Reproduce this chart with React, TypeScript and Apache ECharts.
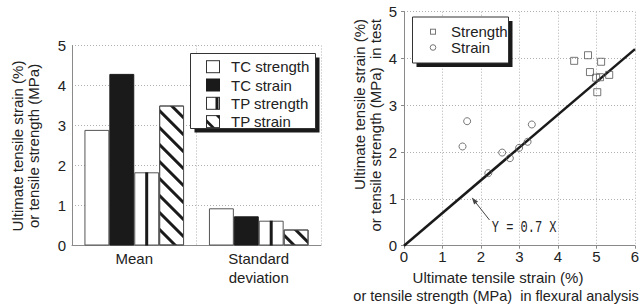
import React, { useEffect, useRef } from "react";
import * as echarts from "echarts";

// ---- Left chart data ----
const categories = ["Mean", "Standard\ndeviation"];
const tcStrength = [2.89, 0.93];
const tcStrain = [4.29, 0.73];
const tpStrength = [1.83, 0.62];
const tpStrain = [3.5, 0.4];
const barTicks = [0, 1, 2, 3, 4, 5];

// ---- Right chart data ----
const strengthX = [4.42, 4.78, 5.12, 4.83, 4.99, 5.09, 5.33, 5.02];
const strengthY = [3.95, 4.07, 3.93, 3.71, 3.59, 3.6, 3.65, 3.28];
const strainX = [1.52, 1.64, 2.19, 2.55, 2.75, 2.99, 3.21, 3.32];
const strainY = [2.12, 2.66, 1.55, 1.99, 1.87, 2.09, 2.22, 2.59];
const fitX = [0, 6];
const fitY = [0, 4.2];
const fitLabel = "Y = 0.7 X";
const arrowTip = [1.76, 1.03];
const arrowTail = [2.22, 0.55];
const fitLabelAt = [3.12, 0.38];

const FONT = "'Liberation Sans', Arial, Helvetica, sans-serif";
const TXT = "#222";
const GRID = "#b0b0b0";
const AXIS = "#8a8a8a";
const DARK = "#1a1a1a";

function svgIcon(inner: string, w: number, h: number) {
  return (
    "image://data:image/svg+xml;charset=utf-8," +
    encodeURIComponent(
      `<svg xmlns="http://www.w3.org/2000/svg" width="${w}" height="${h}" viewBox="0 0 ${w} ${h}">${inner}</svg>`
    )
  );
}

const boxL = `<rect x="0.5" y="1.5" width="13" height="12" fill="#fff" stroke="#333" stroke-width="1"/>`;
const iconTCs = svgIcon(boxL, 20, 15);
const iconTCe = svgIcon(`<rect x="0.5" y="1.5" width="13" height="12" fill="${DARK}" stroke="${DARK}"/>`, 20, 15);
const iconTPs = svgIcon(boxL + `<rect x="9.5" y="1.5" width="3" height="12" fill="${DARK}"/>`, 20, 15);
const iconTPe = svgIcon(
  boxL +
    `<polygon points="9.5,1.5 13.5,1.5 13.5,5.5" fill="${DARK}"/>` +
    `<polygon points="0.5,5 0.5,8.8 5.2,13.5 9,13.5" fill="${DARK}"/>`,
  20,
  15
);
const iconSq = svgIcon(`<rect x="2.5" y="5" width="5" height="5" fill="none" stroke="#555" stroke-width="1"/>`, 18, 15);
const iconCi = svgIcon(`<circle cx="5" cy="7.5" r="2.8" fill="none" stroke="#555" stroke-width="1"/>`, 18, 15);

export default function App() {
  const ref = useRef<HTMLDivElement>(null);

  useEffect(() => {
    if (!ref.current) return;
    const chart = echarts.init(ref.current, null, { renderer: "svg" });

    const splitLine = { show: true, lineStyle: { color: GRID, type: [1, 2] as any, width: 1 } };
    const axisLine = { show: true, lineStyle: { color: AXIS, width: 1 } };
    const labelStyle = { color: TXT, fontSize: 15, fontFamily: FONT };

    const baseGraphic: any[] = [
      // left y title
      {
        type: "text",
        x: 25,
        y: 146,
        rotation: Math.PI / 2,
        style: {
          text: "Ultimate tensile strain (%)\nor tensile strength (MPa)",
          fill: TXT,
          font: `15px ${FONT}`,
          lineHeight: 16,
          textAlign: "center",
          textVerticalAlign: "middle",
        },
      },
      // right y title
      {
        type: "text",
        x: 367,
        y: 19,
        rotation: Math.PI / 2,
        style: {
          text: "Ultimate tensile strain (%)\nor tensile strength (MPa)  in test",
          fill: TXT,
          font: `15px ${FONT}`,
          lineHeight: 16,
          textAlign: "right",
          textVerticalAlign: "middle",
        },
      },
      // right x title
      {
        type: "text",
        x: 498,
        y: 277,
        style: {
          text: "Ultimate tensile strain (%)",
          fill: TXT,
          font: `15px ${FONT}`,
          textAlign: "center",
          textVerticalAlign: "middle",
        },
      },
      {
        type: "text",
        x: 496,
        y: 296,
        style: {
          text: "or tensile strength (MPa)  in flexural analysis",
          fill: TXT,
          font: `14.5px ${FONT}`,
          textAlign: "center",
          textVerticalAlign: "middle",
        },
      },
      // left legend box
      { type: "rect", z: 3, shape: { x: 194.5, y: 57.5, width: 125, height: 75 }, style: { fill: DARK } },
      {
        type: "rect",
        z: 3,
        z2: 1,
        shape: { x: 190.5, y: 53.5, width: 125, height: 75 },
        style: { fill: "#fff", stroke: "#333", lineWidth: 1 },
      },
      // right legend box
      { type: "rect", z: 3, shape: { x: 416.5, y: 21, width: 96, height: 46 }, style: { fill: DARK } },
      {
        type: "rect",
        z: 3,
        z2: 1,
        shape: { x: 412.5, y: 17, width: 96, height: 46 },
        style: { fill: "#fff", stroke: "#333", lineWidth: 1 },
      },
    ];

    const option: any = {
      animation: false,
      backgroundColor: "#fff",
      textStyle: { fontFamily: FONT },
      grid: [
        { left: 72, top: 45.5, width: 249, height: 200, containLabel: false },
        { left: 404, top: 11.7, width: 231, height: 234, containLabel: false },
      ],
      xAxis: [
        {
          gridIndex: 0,
          type: "category",
          data: categories,
          axisLine,
          axisTick: { show: false },
          axisLabel: { ...labelStyle, margin: 3, lineHeight: 19 },
          splitLine,
        },
        {
          gridIndex: 1,
          type: "value",
          min: 0,
          max: 6,
          interval: 1,
          axisLine,
          axisTick: { show: true, length: 3, lineStyle: { color: AXIS } },
          axisLabel: { ...labelStyle, margin: 2, lineHeight: 17 },
          splitLine,
        },
      ],
      yAxis: [
        {
          gridIndex: 0,
          type: "value",
          min: barTicks[0],
          max: barTicks[barTicks.length - 1],
          interval: 1,
          axisLine,
          axisTick: { show: false },
          axisLabel: { ...labelStyle, margin: 6 },
          splitLine,
        },
        {
          gridIndex: 1,
          type: "value",
          min: 0,
          max: 5,
          interval: 1,
          axisLine,
          axisTick: { show: true, length: 3, lineStyle: { color: AXIS } },
          axisLabel: { ...labelStyle, margin: 7 },
          splitLine,
        },
      ],
      legend: [
        {
          left: 206,
          top: 59.2,
          orient: "vertical",
          padding: 0,
          itemWidth: 20,
          itemHeight: 15,
          itemGap: 3.3,
          selectedMode: false,
          textStyle: { color: TXT, fontSize: 15, fontFamily: FONT, lineHeight: 15 },
          data: [
            { name: "TC strength", icon: iconTCs },
            { name: "TC strain", icon: iconTCe },
            { name: "TP strength", icon: iconTPs },
            { name: "TP strain", icon: iconTPe },
          ],
        },
        {
          left: 428,
          top: 24.2,
          orient: "vertical",
          padding: 0,
          itemWidth: 18,
          itemHeight: 15,
          itemGap: 0.8,
          selectedMode: false,
          textStyle: { color: TXT, fontSize: 15, fontFamily: FONT, lineHeight: 15 },
          data: [
            { name: "Strength", icon: iconSq },
            { name: "Strain", icon: iconCi },
          ],
        },
      ],
      series: [
        {
          name: "TC strength",
          type: "bar",
          xAxisIndex: 0,
          yAxisIndex: 0,
          data: tcStrength,
          barGap: "0%",
          barCategoryGap: "20%",
          itemStyle: { color: "#fff", borderColor: "#555", borderWidth: 1 },
        },
        {
          name: "TC strain",
          type: "bar",
          xAxisIndex: 0,
          yAxisIndex: 0,
          data: tcStrain,
          barGap: "0%",
          barCategoryGap: "20%",
          itemStyle: { color: DARK, borderColor: DARK, borderWidth: 1 },
        },
        {
          name: "TP strength",
          type: "bar",
          xAxisIndex: 0,
          yAxisIndex: 0,
          data: tpStrength,
          barGap: "0%",
          barCategoryGap: "20%",
          itemStyle: { color: "#fff", borderColor: "#555", borderWidth: 1 },
        },
        {
          name: "TP strain",
          type: "bar",
          xAxisIndex: 0,
          yAxisIndex: 0,
          data: tpStrain,
          barGap: "0%",
          barCategoryGap: "20%",
          itemStyle: {
            color: "#fff",
            borderColor: "#555",
            borderWidth: 1,
            decal: {
              symbol: "rect",
              symbolSize: 1,
              color: DARK,
              dashArrayX: [1, 0],
              dashArrayY: [3, 9],
              rotation: Math.PI / 4,
            },
          },
        },
        {
          name: "TP strength stripe",
          type: "custom",
          xAxisIndex: 0,
          yAxisIndex: 0,
          z: 3,
          data: tpStrength.map((v, i) => [i, v]),
          renderItem: (params: any, api: any) => {
            const idx = api.value(0);
            const v = api.value(1);
            const base = api.coord([idx, 0]);
            const top = api.coord([idx, v]);
            const band = api.size([1, 0])[0];
            const barW = (band * 0.8) / 4;
            const cx = base[0] + barW / 2;
            return {
              type: "rect",
              shape: { x: cx - 1.5, y: top[1], width: 3, height: base[1] - top[1] },
              style: { fill: DARK },
            };
          },
        },
        {
          name: "Strength",
          type: "scatter",
          xAxisIndex: 1,
          yAxisIndex: 1,
          symbol: "rect",
          symbolSize: 7,
          data: strengthX.map((x, i) => [x, strengthY[i]]),
          itemStyle: { color: "rgba(255,255,255,0)", borderColor: "#555", borderWidth: 1 },
          z: 4,
        },
        {
          name: "Strain",
          type: "scatter",
          xAxisIndex: 1,
          yAxisIndex: 1,
          symbol: "circle",
          symbolSize: 7,
          data: strainX.map((x, i) => [x, strainY[i]]),
          itemStyle: { color: "rgba(255,255,255,0)", borderColor: "#555", borderWidth: 1 },
          z: 4,
        },
        {
          name: "fit",
          type: "line",
          xAxisIndex: 1,
          yAxisIndex: 1,
          showSymbol: false,
          symbol: "none",
          data: fitX.map((x, i) => [x, fitY[i]]),
          lineStyle: { color: DARK, width: 2.5 },
          z: 3,
        },
      ],
      graphic: baseGraphic,
    };

    chart.setOption(option);

    const tip = chart.convertToPixel({ gridIndex: 1 } as any, arrowTip) as number[];
    const tail = chart.convertToPixel({ gridIndex: 1 } as any, arrowTail) as number[];
    const lab = chart.convertToPixel({ gridIndex: 1 } as any, fitLabelAt) as number[];
    const dx = tip[0] - tail[0];
    const dy = tip[1] - tail[1];
    const len = Math.sqrt(dx * dx + dy * dy);
    const ux = dx / len;
    const uy = dy / len;
    const hl = 7;
    const hw = 2.5;
    const bx = tip[0] - ux * hl;
    const by = tip[1] - uy * hl;
    const px = -uy;
    const py = ux;

    chart.setOption({
      graphic: [
        ...baseGraphic,
        {
          type: "line",
          z: 5,
          shape: { x1: tail[0], y1: tail[1], x2: bx, y2: by },
          style: { stroke: "#444", lineWidth: 1 },
        },
        {
          type: "polygon",
          z: 5,
          shape: {
            points: [
              [tip[0], tip[1]],
              [bx + px * hw, by + py * hw],
              [bx - px * hw, by - py * hw],
            ],
          },
          style: { fill: "#444" },
        },
        {
          type: "text",
          z: 5,
          x: lab[0],
          y: lab[1],
          scaleX: 0.75,
          style: {
            text: fitLabel,
            fill: TXT,
            font: "16px 'Liberation Mono', 'DejaVu Sans Mono', monospace",
            textAlign: "center",
            textVerticalAlign: "middle",
          },
        },
      ],
    });

    return () => chart.dispose();
  }, []);

  return (
    <div
      ref={ref}
      style={{ position: "fixed", left: 0, top: 0, width: 643, height: 305, background: "#fff" }}
    />
  );
}
